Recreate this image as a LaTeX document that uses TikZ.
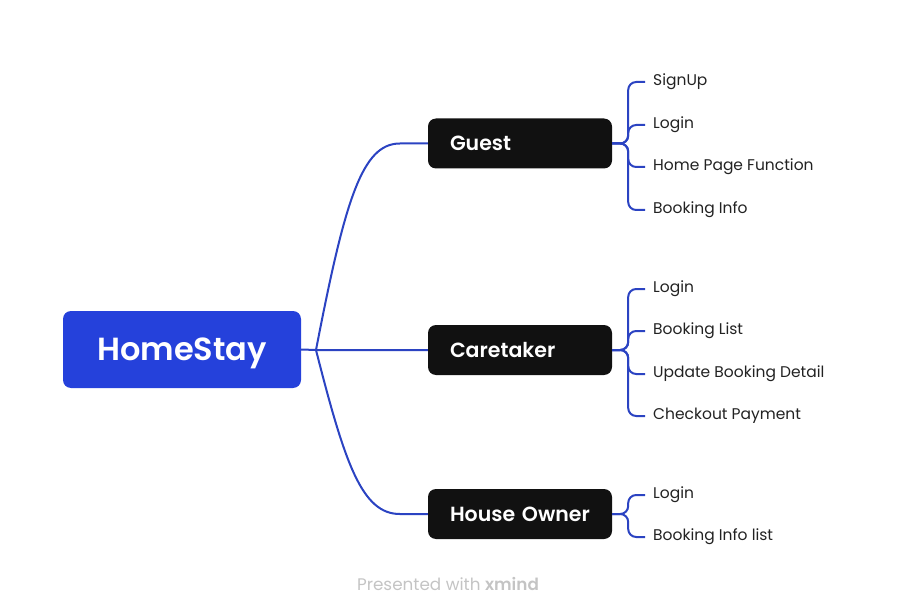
\documentclass[tikz,border=0pt]{standalone}
\usepackage{fontspec}
\setmainfont{Poppins}[BoldFont={Poppins SemiBold}]
\usetikzlibrary{calc}
\definecolor{rootblue}{HTML}{2541DB}
\definecolor{linkblue}{HTML}{2B43C2}
\definecolor{boxblack}{HTML}{111111}
\definecolor{leafgray}{HTML}{222222}
\definecolor{footgray}{HTML}{C4C4C4}
\tikzset{
  rootbox/.style={fill=rootblue,rounded corners=8pt,minimum width=238pt,minimum height=77pt,
    text=white,text depth=0pt,font=\fontsize{32}{36}\selectfont\bfseries},
  rolebox/.style={fill=boxblack,rounded corners=8pt,minimum width=184pt,minimum height=50pt,text depth=0pt,
    text=white,font=\fontsize{20.5}{24}\selectfont\bfseries,text width=140pt,align=left,inner xsep=22pt},
  leaf/.style={anchor=west,inner xsep=8pt,inner ysep=0pt,text=leafgray,font=\fontsize{15.5}{19}\selectfont},
  link/.style={draw=linkblue,line width=2pt},
}
\begin{document}
\begin{tikzpicture}[x=1pt,y=-1pt]
  \useasboundingbox (0,0) rectangle (898,615);
  % Knoten
  \node[rootbox] (root) at (182,349.5) {HomeStay};
  \node[rolebox] (guest) at (520,143.5) {Guest};
  \node[rolebox] (caretaker) at (520,350) {Caretaker};
  \node[rolebox] (owner) at (520,514) {House Owner};
  \coordinate (hub) at (316,350);
  % Zweige von der Wurzel
  \draw[link] (root.east) -- (hub) -- (caretaker.west);
  \draw[link] (hub) .. controls (345,200) and (362,143.5) .. ($(guest.west)+(-28,0)$) -- (guest.west);
  \draw[link] (hub) .. controls (345,464) and (362,514) .. ($(owner.west)+(-28,0)$) -- (owner.west);
  % Blaetter
  \foreach \p/\y/\t in {guest/80/SignUp,guest/123/Login,guest/165/Home Page Function,guest/208/Booking Info,
      caretaker/287/Login,caretaker/329/Booking List,caretaker/372/Update Booking Detail,caretaker/414/Checkout Payment,
      owner/493/Login,owner/535/Booking Info list}
  {
    \node[leaf] (\p-\y) at (645,\y+2) {\t};
    \draw[link,rounded corners=8pt] (\p.east) -- ++(16,0) |- (\p-\y.west);
  }
  \node[text=footgray,font=\fontsize{16.8}{20}\selectfont] (foot) at (448,584) {Presented with \textbf{xmind}};
\end{tikzpicture}
\end{document}
